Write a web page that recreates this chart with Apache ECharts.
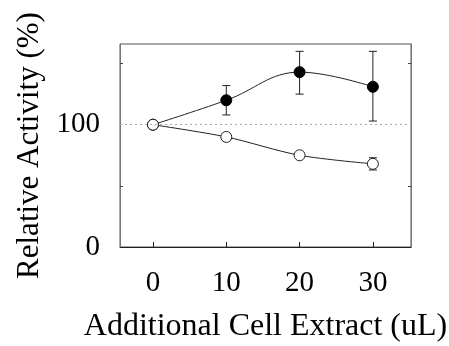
<!DOCTYPE html>
<html><head><meta charset="utf-8">
<script src="https://cdn.jsdelivr.net/npm/echarts@6/dist/echarts.min.js"></script>
<style>html,body{margin:0;padding:0;background:#fff}#c{width:449px;height:346px}</style>
</head><body><div id="c"></div>
<script>
var xValues = [0, 10, 20, 30];
var filledMean = [100, 120, 143, 131];
var filledLow  = [null, 108, 125, 103];
var filledHigh = [null, 132, 160, 160];
var openMean = [100, 90, 75, 68];
var openLow  = [null, null, null, 63];
var openHigh = [null, null, null, 73];
var xTicks = [0, 10, 20, 30];
var yTickLabels = [0, 100];
var yTicks = [50, 150];

var font = '"Liberation Serif", "DejaVu Serif", serif';
function pairs(xs, ys){ return xs.map(function(x,i){ return [x, ys[i]]; }); }
function errData(xs, lo, hi){
  var out=[]; xs.forEach(function(x,i){ if(lo[i]!=null) out.push([x, lo[i], hi[i]]); }); return out;
}
function errRender(params, api){
  var x = api.value(0), lo = api.value(1), hi = api.value(2);
  var p1 = api.coord([x, hi]), p2 = api.coord([x, lo]);
  var w = 4;
  var st = {stroke:'#222', lineWidth:1};
  return {type:'group', children:[
    {type:'line', shape:{x1:p1[0],y1:p1[1],x2:p2[0],y2:p2[1]}, style:st},
    {type:'line', shape:{x1:p1[0]-w,y1:p1[1],x2:p1[0]+w,y2:p1[1]}, style:st},
    {type:'line', shape:{x1:p2[0]-w,y1:p2[1],x2:p2[0]+w,y2:p2[1]}, style:st}
  ]};
}
var chart = echarts.init(document.getElementById('c'));
chart.setOption({
  animation:false,
  grid:{left:120, top:44, right:38, bottom:99, show:true, borderColor:'#555', borderWidth:1,
        containLabel:false, outerBoundsMode:'none'},
  xAxis:{type:'value', min:-4.5, max:35.2,
    name:'Additional Cell Extract (uL)', nameLocation:'middle', nameGap:64,
    nameTextStyle:{fontFamily:font, fontSize:32, color:'#000'},
    axisLine:{show:true, onZero:false, lineStyle:{color:'#222'}},
    axisTick:{show:true, inside:true, length:5, customValues:xTicks, lineStyle:{color:'#222'}},
    axisLabel:{customValues:xTicks, fontFamily:font, fontSize:29, color:'#000', margin:22},
    splitLine:{show:false}},
  yAxis:[{type:'value', min:0, max:166, interval:50,
    name:'Relative Activity (%)', nameLocation:'middle', nameGap:74,
    nameTextStyle:{fontFamily:font, fontSize:31, color:'#000'},
    axisLine:{show:true, onZero:false, lineStyle:{color:'#777'}},
    axisTick:{show:true, inside:true, length:3, customValues:yTicks, lineStyle:{color:'#444'}},
    axisLabel:{customValues:yTickLabels, fontFamily:font, fontSize:29, color:'#000', margin:20},
    splitLine:{show:false}},
   {type:'value', min:0, max:166, interval:50, position:'right',
    axisLine:{show:true, onZero:false, lineStyle:{color:'#777'}},
    axisTick:{show:true, inside:true, length:3, customValues:yTicks, lineStyle:{color:'#444'}},
    axisLabel:{show:false}, splitLine:{show:false}}],
  series:[
    {type:'line', data:pairs(xValues, filledMean), smooth:0.4, symbol:'circle', symbolSize:11,
     lineStyle:{color:'#222', width:1}, itemStyle:{color:'#000', borderColor:'#000'}, z:3,
     markLine:{silent:true, symbol:'none', label:{show:false},
       lineStyle:{color:'#aaa', type:[2,3], width:1}, data:[{yAxis:100}]}},
    {type:'line', data:pairs(xValues, openMean), smooth:0.3, symbol:'circle', symbolSize:11,
     lineStyle:{color:'#222', width:1}, itemStyle:{color:'#fff', borderColor:'#222', borderWidth:1}, z:4},
    {type:'custom', renderItem:errRender, data:errData(xValues, filledLow, filledHigh), z:2},
    {type:'custom', renderItem:errRender, data:errData(xValues, openLow, openHigh), z:2}
  ]
});
</script></body></html>
